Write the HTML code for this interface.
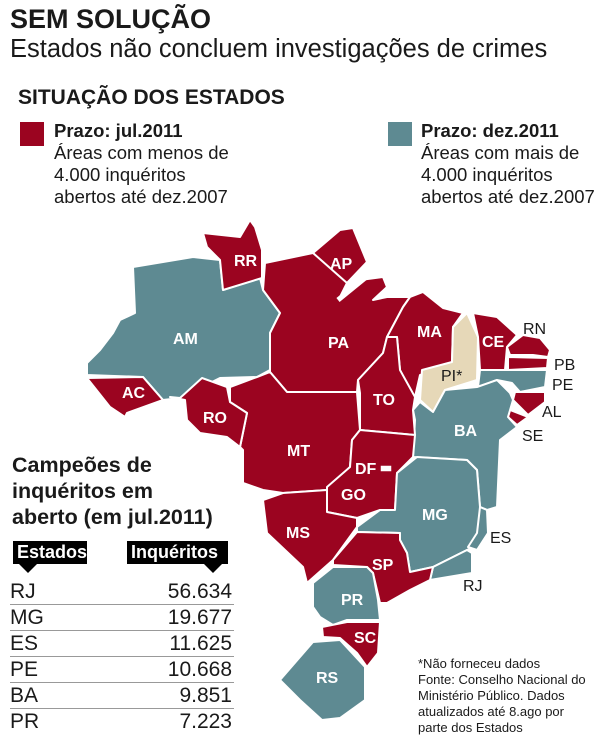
<!DOCTYPE html>
<html><head><meta charset="utf-8"><style>
body{margin:0;width:616px;height:740px;background:#fff;overflow:hidden;position:relative;font-family:"Liberation Sans",sans-serif;color:#1a1a1a}
.a{position:absolute;white-space:nowrap}
.sq{position:absolute;width:24px;height:24px}
.hd{position:absolute;background:#000;color:#fff;font-weight:bold;font-size:18px;height:23px;line-height:23px;padding:0 4px}
.hd i{position:absolute;bottom:-9px;width:0;height:0;border-left:9px solid transparent;border-right:9px solid transparent;border-top:9px solid #000}
.row{position:absolute;left:10px;width:224px;font-size:21px;height:25px;line-height:25px;border-bottom:1.5px solid #999}
.row span{position:absolute;right:2px}
</style></head><body>
<div class="a" style="left:10px;top:4px;font-size:27px;font-weight:bold">SEM SOLUÇÃO</div>
<div class="a" style="left:10px;top:35px;font-size:25.5px">Estados não concluem investigações de crimes</div>
<div class="a" style="left:18px;top:86px;font-size:21px;font-weight:bold">SITUAÇÃO DOS ESTADOS</div>
<div class="sq" style="left:20px;top:122px;background:#9b0420"></div>
<div class="a" style="left:54px;top:120px;font-size:18.5px;line-height:22px"><b>Prazo: jul.2011</b><br>Áreas com menos de<br>4.000 inquéritos<br>abertos até dez.2007</div>
<div class="sq" style="left:388px;top:122px;background:#5e8a92"></div>
<div class="a" style="left:421px;top:120px;font-size:18.5px;line-height:22px"><b>Prazo: dez.2011</b><br>Áreas com mais de<br>4.000 inquéritos<br>abertos até dez.2007</div>

<svg class="a" style="left:0;top:0" width="616" height="740">
<g stroke="#fff" stroke-width="2" stroke-linejoin="round">
<polygon fill="#5e8a92" points="87,363 100,350 113,333 120,320 135,313 133,267 193,257 220,260 223,290 260,278 263,290 280,313 270,333 270,370 257,377 220,378 180,398 163,400 143,377 87,375"/>
<polygon fill="#9b0420" points="87,378 143,377 163,400 127,413 125,417 110,407"/>
<polygon fill="#9b0420" points="203,233 240,237 250,220 255,227 262,250 262,278 223,290 220,260 207,247"/>
<polygon fill="#9b0420" points="313,253 340,230 353,228 367,262 347,283 337,277"/>
<polygon fill="#9b0420" points="265,263 313,253 347,283 340,297 360,280 383,277 387,287 373,300 387,297 410,297 403,307 387,337 383,353 358,380 357,392 287,392 270,372 270,333 280,313 263,290"/>
<polygon fill="#9b0420" points="410,297 423,292 443,308 463,313 453,327 452,362 420,375 415,397 408,387 400,370 397,337 387,337 403,307"/>
<polygon fill="#e6d8b8" points="467,313 478,337 477,380 445,390 433,412 420,400 422,370 452,362 453,327"/>
<polygon fill="#9b0420" points="473,313 497,317 517,335 507,347 505,370 480,370 478,337"/>
<polygon fill="#9b0420" points="507,347 523,335 540,338 550,350 548,357 533,355 510,355"/>
<polygon fill="#9b0420" points="508,357 548,358 547,368 508,370"/>
<polygon fill="#5e8a92" points="480,370 547,370 545,387 520,392 512,383 497,380 478,387"/>
<polygon fill="#9b0420" points="515,392 545,392 545,402 528,415 513,400"/>
<polygon fill="#9b0420" points="510,410 528,417 517,425 508,417"/>
<polygon fill="#5e8a92" points="413,410 420,402 433,412 445,390 477,387 497,380 510,393 513,400 508,417 517,427 500,440 497,507 487,510 480,507 477,470 467,460 413,457 415,420"/>
<polygon fill="#9b0420" points="358,380 383,353 387,337 397,337 400,370 415,397 413,410 415,435 360,430 360,393"/>
<polygon fill="#9b0420" points="230,387 257,377 270,372 287,392 357,392 360,430 352,440 350,467 327,490 283,493 263,490 243,483 243,450 240,447 247,413 230,402"/>
<polygon fill="#9b0420" points="170,397 180,398 202,378 227,387 230,402 247,413 240,447 227,437 200,433 187,420 185,400"/>
<polygon fill="#9b0420" points="360,430 415,435 413,457 397,473 395,510 380,510 357,518 327,512 327,487 350,467 352,440"/>
<polygon fill="#9b0420" points="263,500 283,493 327,490 327,512 357,518 357,527 333,560 307,583 303,567 267,533"/>
<polygon fill="#5e8a92" points="357,527 380,510 395,510 397,473 417,457 467,460 477,470 480,507 487,510 488,533 477,545 467,550 433,567 410,572 407,553 400,540 400,533 357,532"/>
<polygon fill="#5e8a92" points="480,507 487,510 488,533 477,550 468,547 477,533"/>
<polygon fill="#5e8a92" points="433,567 467,550 472,553 472,573 430,580"/>
<polygon fill="#9b0420" points="333,560 357,532 400,533 400,540 407,553 410,572 433,567 430,580 410,590 387,603 380,603 373,573 367,567 333,565"/>
<polygon fill="#5e8a92" points="313,583 333,567 367,567 373,573 378,600 380,620 347,620 333,625 320,617 313,607"/>
<polygon fill="#9b0420" points="322,627 347,622 380,622 378,653 367,667 357,653 340,638 323,637"/>
<polygon fill="#5e8a92" points="280,680 313,642 340,640 365,667 365,700 340,718 322,720 300,700"/>
</g>
<line x1="338" y1="300" x2="365" y2="278" stroke="#fff" stroke-width="5"/>
<rect x="380" y="465" width="12" height="7" fill="#fff" stroke="#9b0420" stroke-width="1.5"/>
<g font-family="Liberation Sans,sans-serif" font-weight="bold" font-size="16" fill="#fff">
<text x="234" y="266">RR</text><text x="330" y="269">AP</text><text x="173" y="344">AM</text>
<text x="328" y="348">PA</text><text x="122" y="398">AC</text><text x="203" y="423">RO</text>
<text x="417" y="337">MA</text><text x="482" y="347">CE</text><text x="373" y="405">TO</text>
<text x="454" y="436">BA</text><text x="287" y="456">MT</text><text x="355" y="474">DF</text>
<text x="341" y="500">GO</text><text x="422" y="520">MG</text><text x="286" y="538">MS</text>
<text x="372" y="570">SP</text><text x="341" y="605">PR</text><text x="354" y="643">SC</text>
<text x="316" y="683">RS</text>
</g>
<g font-family="Liberation Sans,sans-serif" font-size="16" fill="#1a1a1a">
<text x="441" y="381">PI*</text><text x="523" y="334">RN</text><text x="554" y="370">PB</text>
<text x="552" y="390">PE</text><text x="542" y="417">AL</text><text x="522" y="441">SE</text>
<text x="490" y="543">ES</text><text x="463" y="591">RJ</text>
</g>
</svg>

<div class="a" style="left:12px;top:452px;font-size:21.5px;font-weight:bold;line-height:26px">Campeões de<br>inquéritos em<br>aberto (em jul.2011)</div>
<div class="hd" style="left:13px;top:541px;width:66px">Estados<i style="left:6px"></i></div>
<div class="hd" style="left:127px;top:541px;width:93px">Inquéritos<i style="right:6px"></i></div>
<div class="row" style="top:579px">RJ<span>56.634</span></div>
<div class="row" style="top:605px">MG<span>19.677</span></div>
<div class="row" style="top:631px">ES<span>11.625</span></div>
<div class="row" style="top:657px">PE<span>10.668</span></div>
<div class="row" style="top:683px">BA<span>9.851</span></div>
<div class="row" style="top:709px;border-bottom:none">PR<span>7.223</span></div>
<div class="a" style="left:418px;top:656px;font-size:13px;line-height:16px">*Não forneceu dados<br>Fonte: Conselho Nacional do<br>Ministério Público. Dados<br>atualizados até 8.ago por<br>parte dos Estados</div>
</body></html>
